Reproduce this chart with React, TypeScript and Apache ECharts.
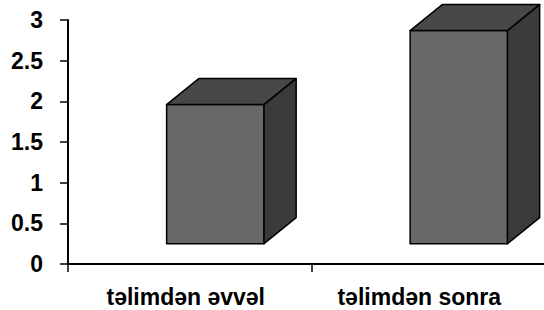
import React, { useEffect, useRef } from "react";
import * as echarts from "echarts";

const categories = ["təlimdən əvvəl", "təlimdən sonra"];
const values = [1.96, 2.87];
const yTicks = { min: 0, max: 3, interval: 0.5 };
const FLOOR = 0.25;

export default function App() {
  const ref = useRef<HTMLDivElement>(null);
  useEffect(() => {
    const chart = echarts.init(ref.current!, null, { renderer: "svg" });
    const font = "'Liberation Sans', Arial, sans-serif";
    chart.setOption({
      animation: false,
      grid: { left: 68, top: 20, width: 487, height: 244, outerBoundsMode: "none", containLabel: false },
      xAxis: {
        type: "category",
        data: categories,
        axisLine: { lineStyle: { color: "#000", width: 2 } },
        axisTick: { show: true, length: 8, lineStyle: { color: "#000", width: 1.5 } },
        axisLabel: {
          margin: 21,
          formatter: (v: string, i: number) => (i === 0 ? `{a|${v}}` : `{b|${v}}`),
          rich: {
            a: { fontFamily: font, fontWeight: "bold", fontSize: 23, lineHeight: 23, color: "#000", padding: [0, 8, 0, 0] },
            b: { fontFamily: font, fontWeight: "bold", fontSize: 23, lineHeight: 23, color: "#000", padding: [0, 28, 0, 0] },
          },
        },
      },
      yAxis: {
        type: "value",
        min: yTicks.min,
        max: yTicks.max,
        interval: yTicks.interval,
        splitLine: { show: false },
        axisLine: { show: true, lineStyle: { color: "#000", width: 2 } },
        axisTick: { show: true, length: 8, lineStyle: { color: "#000", width: 1.5 } },
        axisLabel: {
          margin: 25,
          fontFamily: font,
          fontWeight: "bold",
          fontSize: 23,
          color: "#000",
        },
      },
      series: [
        {
          type: "custom",
          data: values.map((v, i) => [i, v]),
          renderItem: (params: any, api: any) => {
            const i = api.value(0);
            const v = api.value(1);
            const band = api.size([1, 0])[0];
            const cx = api.coord([i, v])[0] + band * 0.105;
            const top = api.coord([i, v])[1];
            const bottom = api.coord([i, FLOOR])[1];
            const w = band * 0.4;
            const dx = band * 0.132;
            const dy = 26;
            const x0 = cx - w / 2;
            const x1 = cx + w / 2;
            const stroke = { stroke: "#000", lineWidth: 1.5, lineJoin: "round" };
            return {
              type: "group",
              children: [
                {
                  type: "polygon",
                  shape: { points: [[x0, bottom], [x1, bottom], [x1, top], [x0, top]] },
                  style: { fill: "#686868", ...stroke },
                },
                {
                  type: "polygon",
                  shape: { points: [[x0, top], [x1, top], [x1 + dx, top - dy], [x0 + dx, top - dy]] },
                  style: { fill: "#484848", ...stroke },
                },
                {
                  type: "polygon",
                  shape: { points: [[x1, top], [x1 + dx, top - dy], [x1 + dx, bottom - dy], [x1, bottom]] },
                  style: { fill: "#3b3b3b", ...stroke },
                },
              ],
            };
          },
        },
      ],
    });
    return () => chart.dispose();
  }, []);
  return (
    <div
      ref={ref}
      style={{ position: "absolute", left: 0, top: 0, width: 544, height: 310 }}
    />
  );
}
